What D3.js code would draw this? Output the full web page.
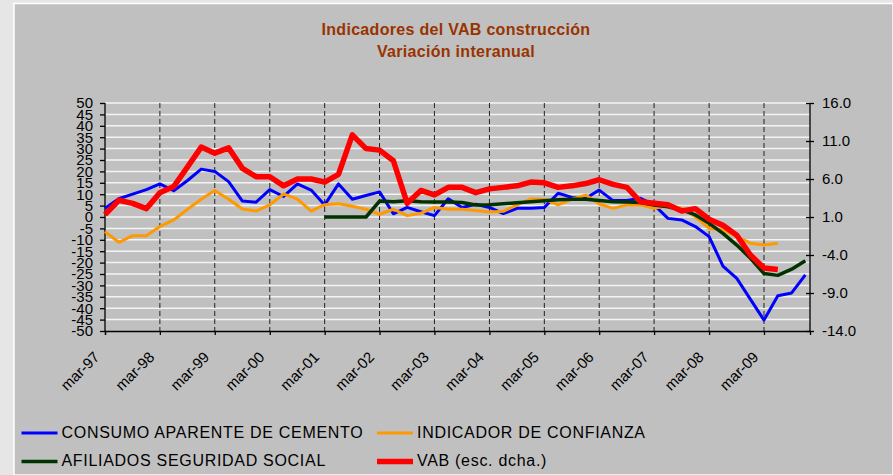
<!DOCTYPE html>
<html>
<head>
<meta charset="utf-8">
<script src="https://cdn.jsdelivr.net/npm/d3@7"></script>
<style>
body { margin: 0; background: #e6e6e6; }
svg { display: block; font-family: "Liberation Sans", Arial, sans-serif; }
</style>
</head>
<body>
<svg id="chart" width="893" height="475"></svg>
<script>
// trimestres (mar, jun, sep, dic) 1997-2009
var quarters = [
    "1997-03", "1997-06", "1997-09", "1997-12",
    "1998-03", "1998-06", "1998-09", "1998-12",
    "1999-03", "1999-06", "1999-09", "1999-12",
    "2000-03", "2000-06", "2000-09", "2000-12",
    "2001-03", "2001-06", "2001-09", "2001-12",
    "2002-03", "2002-06", "2002-09", "2002-12",
    "2003-03", "2003-06", "2003-09", "2003-12",
    "2004-03", "2004-06", "2004-09", "2004-12",
    "2005-03", "2005-06", "2005-09", "2005-12",
    "2006-03", "2006-06", "2006-09", "2006-12",
    "2007-03", "2007-06", "2007-09", "2007-12",
    "2008-03", "2008-06", "2008-09", "2008-12",
    "2009-03", "2009-06", "2009-09", "2009-12"
];

var yearTicks = ["1997-03", "1998-03", "1999-03", "2000-03", "2001-03", "2002-03", "2003-03",
                 "2004-03", "2005-03", "2006-03", "2007-03", "2008-03", "2009-03"];
var yearLabels = ["mar-97", "mar-98", "mar-99", "mar-00", "mar-01", "mar-02", "mar-03",
                  "mar-04", "mar-05", "mar-06", "mar-07", "mar-08", "mar-09"];

var leftTicks = [-50, -45, -40, -35, -30, -25, -20, -15, -10, -5, 0, 5, 10, 15, 20, 25, 30, 35, 40, 45, 50];
var rightTicks = [-14, -9, -4, 1, 6, 11, 16];

var cemento = [
    3.8, 8, 10, 12,
    14.5, 11.5, 16, 21,
    20, 15.5, 7, 6.5,
    12, 9, 14.5, 11.8,
    5.3, 14.5, 7.8, 9.4,
    11, 1.4, 4.2, 2.3,
    0.6, 8, 4.2, 5.6,
    4.2, 1.5, 3.8, 3.8,
    4.2, 10.4, 8.6, 8.2,
    11.8, 7.2, 7.2, 8.2,
    5.3, -0.6, -1.3, -4.2,
    -8.6, -21.5, -26.9, -36.1,
    -45.2, -34.5, -33.3, -25.4
];

var confianza = [
    -6.4, -11.1, -8.2, -8.2,
    -4.2, -1.3, 3.4, 7.8,
    11.6, 7.8, 3.5, 2.6,
    5.3, 10.1, 7.8, 2.6,
    5.4, 5.8, 4.7, 3.4,
    1.2, 3.4, 0.6, 1.6,
    4.2, 3.4, 3.4, 2.8,
    2.2, 2.5, 5.3, 7.9,
    7.8, 5.3, 7.8, 9.6,
    5.7, 3.8, 5.3, 5.3,
    3.8, 4.9, 3.8, 0.1,
    -5.0, -5.6, -8.6, -11.5,
    -12.3, -11.5, null, null
];

var afiliados = [
    null, null, null, null,
    null, null, null, null,
    null, null, null, null,
    null, null, null, null,
    0, 0, 0, 0,
    7.0, 6.7, 7.1, 6.7,
    6.6, 6.6, 6.4, 5.3,
    5.4, 5.8, 6.3, 6.7,
    7.1, 7.6, 7.8, 7.8,
    7.2, 6.7, 6.6, 6.4,
    5.3, 4.5, 3.1, 0.9,
    -2.8, -7.2, -12.3, -18.1,
    -24.8, -25.6, -22.9, -19.2
];

// VAB en escala derecha
var vab = [
    1.3, 3.2, 2.8, 2.1,
    4.2, 5.0, 7.6, 10.2,
    9.4, 10.1, 7.4, 6.3,
    6.3, 5.1, 6.0, 6.0,
    5.6, 6.6, 11.8, 10.0,
    9.8, 8.4, 2.8, 4.5,
    3.9, 4.9, 4.9, 4.2,
    4.7, 4.9, 5.1, 5.6,
    5.5, 4.9, 5.1, 5.4,
    5.9, 5.3, 4.9, 3.0,
    2.8, 2.6, 1.8, 2.1,
    0.7, -0.1, -1.4, -4.0,
    -5.7, -5.9, null, null
];

var parseQ = d3.timeParse("%Y-%m");

var svg = d3.select("#chart");

// area de trazado
var plotL = 105, plotR = 810, plotT = 103, plotB = 331;

var x = d3.scaleTime()
    .domain([parseQ("1997-03"), parseQ("2010-01")])
    .range([plotL, plotR]);
var yL = d3.scaleLinear().domain([-50, 50]).range([plotB, plotT]);
var yR = d3.scaleLinear().domain([-14, 16]).range([plotB, plotT]);

// fondo del grafico
svg.append("rect")
    .attr("x", 14).attr("y", 3.5)
    .attr("width", 893 - 14).attr("height", 475 - 3.5)
    .attr("fill", "#c0c0c0")
    .attr("stroke", "#ffffff")
    .attr("stroke-width", 1.5);

// titulo
var title = svg.append("text")
    .attr("text-anchor", "middle")
    .attr("fill", "#993300")
    .attr("font-weight", "bold")
    .attr("font-size", 16)
    .attr("letter-spacing", 0.3);
title.append("tspan").attr("x", 456).attr("y", 34.5).text("Indicadores del VAB construcción");
title.append("tspan").attr("x", 456).attr("y", 56.5).text("Variación interanual");

// rejilla horizontal
svg.append("g")
    .selectAll("line")
    .data(leftTicks.filter(function(d) { return d > -50; }))
    .enter().append("line")
    .attr("x1", plotL).attr("x2", plotR)
    .attr("y1", function(d) { return yL(d); })
    .attr("y2", function(d) { return yL(d); })
    .attr("stroke", "#f4f4f4")
    .attr("stroke-width", 1.5);

// lineas verticales discontinuas en cada año
svg.append("g")
    .selectAll("line")
    .data(yearTicks.slice(1))
    .enter().append("line")
    .attr("x1", function(d) { return x(parseQ(d)); })
    .attr("x2", function(d) { return x(parseQ(d)); })
    .attr("y1", plotT).attr("y2", plotB)
    .attr("stroke", "#222")
    .attr("stroke-width", 1)
    .attr("stroke-dasharray", "5,3");

// ejes
var axisLeft = svg.append("g")
    .attr("transform", "translate(" + plotL + ",0)")
    .call(d3.axisLeft(yL).tickValues(leftTicks).tickSize(5).tickPadding(7)
        .tickFormat(function(d) { return String(d); }));

var axisRight = svg.append("g")
    .attr("transform", "translate(" + plotR + ",0)")
    .call(d3.axisRight(yR).tickValues(rightTicks).tickSize(4).tickPadding(8)
        .tickFormat(function(d) { return d.toFixed(1); }));
axisRight.selectAll(".tick line").attr("x1", -4).attr("x2", 4);

var axisBottom = svg.append("g")
    .attr("transform", "translate(0," + plotB + ")")
    .call(d3.axisBottom(x).tickValues(yearTicks.map(parseQ)).tickSize(4)
        .tickFormat(function(d, i) { return yearLabels[i]; }));
axisBottom.selectAll(".tick text")
    .attr("x", 0).attr("y", 0).attr("dy", null)
    .attr("text-anchor", "end")
    .attr("transform", "translate(-5,27) rotate(-45)");

[axisLeft, axisRight, axisBottom].forEach(function(a) {
    a.attr("font-family", null).attr("font-size", null);
    a.selectAll("path, line").attr("stroke", "#000").attr("stroke-width", 1.3);
    a.selectAll("text").attr("fill", "#000").style("font-size", "15px");
});
axisRight.select(".domain").attr("d", "M0," + plotB + "V" + plotT);
axisLeft.select(".domain").attr("d", "M0," + plotB + "V" + plotT);

// series
var series = [
    { name: "CONSUMO APARENTE DE CEMENTO", values: cemento, scale: yL, color: "#0000ff", width: 3 },
    { name: "INDICADOR DE CONFIANZA", values: confianza, scale: yL, color: "#ff9900", width: 3 },
    { name: "AFILIADOS SEGURIDAD SOCIAL", values: afiliados, scale: yL, color: "#003300", width: 3.5 },
    { name: "VAB (esc. dcha.)", values: vab, scale: yR, color: "#ff0000", width: 5.5 }
];

series.forEach(function(s) {
    var pts = quarters.map(function(q, i) { return { date: parseQ(q), v: s.values[i] }; });
    var line = d3.line()
        .defined(function(d) { return d.v !== null; })
        .x(function(d) { return x(d.date); })
        .y(function(d) { return s.scale(d.v); });
    svg.append("path")
        .datum(pts)
        .attr("d", line)
        .attr("fill", "none")
        .attr("stroke", s.color)
        .attr("stroke-width", s.width)
        .attr("stroke-linejoin", "round");
});

// leyenda
var legendPos = [
    { x: 21.5, y: 433 }, { x: 377, y: 433 },
    { x: 21.5, y: 461.5 }, { x: 377, y: 461.5 }
];
var legend = svg.append("g")
    .selectAll("g")
    .data(series)
    .enter().append("g")
    .attr("transform", function(d, i) { return "translate(" + legendPos[i].x + "," + legendPos[i].y + ")"; });
legend.append("line")
    .attr("x1", 0).attr("x2", 36)
    .attr("stroke", function(d) { return d.color; })
    .attr("stroke-width", function(d) { return d.width; });
legend.append("text")
    .attr("x", 40).attr("y", 4.5)
    .attr("font-size", 16)
    .attr("letter-spacing", 0.7)
    .attr("fill", "#000")
    .text(function(d) { return d.name; });
</script>
</body>
</html>
